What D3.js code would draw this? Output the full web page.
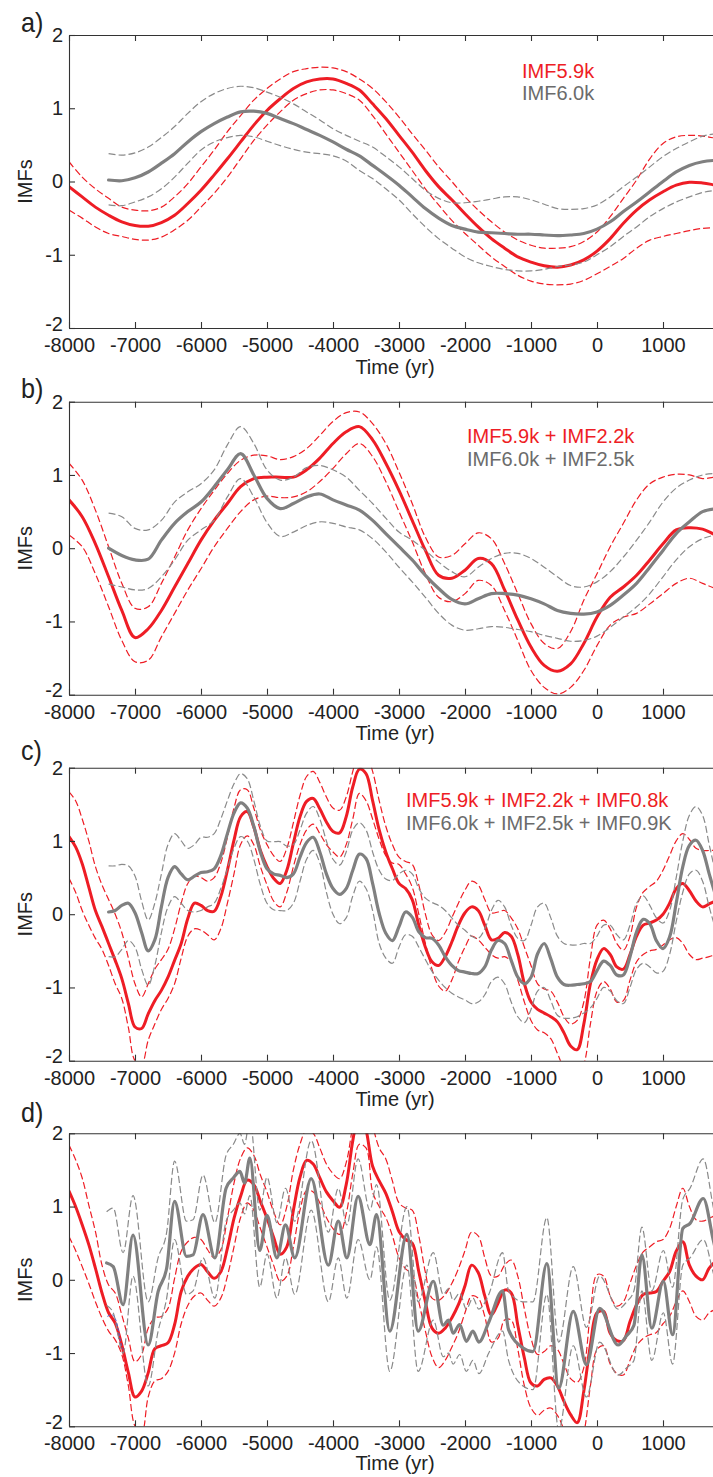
<!DOCTYPE html>
<html><head><meta charset="utf-8">
<script src="https://cdn.jsdelivr.net/npm/d3@7/dist/d3.min.js"></script>
<style>
body{margin:0;background:#fff;}
svg text{font-family:"Liberation Sans",Arial,Helvetica,sans-serif;}
</style></head>
<body><svg id="c" width="713" height="1477"></svg>
<script>
// ---------- DATA ----------
const xTicks = [-8000,-7000,-6000,-5000,-4000,-3000,-2000,-1000,0,1000];
const yTicks = [-2,-1,0,1,2];
const panelLabels = ["a)","b)","c)","d)"];
const legendRed = ["IMF5.9k","IMF5.9k + IMF2.2k","IMF5.9k + IMF2.2k + IMF0.8k"];
const legendGray = ["IMF6.0k","IMF6.0k + IMF2.5k","IMF6.0k + IMF2.5k + IMF0.9K"];

// time grids (years)
const tAB = d3.range(-8000, 2001, 200);
const tCD = d3.range(-8000, 2001, 100);

// Panel a
const aRedMain = [-0.07,-0.21,-0.35,-0.46,-0.55,-0.60,-0.61,-0.56,-0.46,-0.30,-0.12,0.09,0.31,0.54,0.77,0.97,1.13,1.27,1.36,1.40,1.40,1.34,
  1.25,1.06,0.86,0.63,0.40,0.15,-0.07,-0.25,-0.44,-0.62,-0.78,-0.91,-1.03,-1.10,-1.15,-1.17,-1.14,-1.07,-0.95,-0.78,-0.57,-0.39,-0.25,-0.14,-0.05,-0.01,-0.02,-0.05,-0.08];
const aRedUp = [0.27,0.06,-0.10,-0.23,-0.35,-0.39,-0.40,-0.35,-0.21,-0.03,0.20,0.43,0.68,0.90,1.11,1.27,1.40,1.50,1.54,1.56,1.55,1.50,
  1.40,1.27,1.09,0.88,0.65,0.43,0.20,0.00,-0.21,-0.39,-0.55,-0.69,-0.80,-0.87,-0.91,-0.91,-0.89,-0.82,-0.69,-0.48,-0.23,0.02,0.31,0.52,0.61,0.63,0.62,0.59,0.55];
const aRedLo = [-0.39,-0.50,-0.62,-0.71,-0.75,-0.79,-0.80,-0.76,-0.66,-0.53,-0.35,-0.16,0.06,0.31,0.56,0.77,0.95,1.11,1.20,1.25,1.25,1.20,
  1.11,0.90,0.65,0.40,0.15,-0.10,-0.32,-0.53,-0.71,-0.87,-1.03,-1.16,-1.28,-1.36,-1.40,-1.41,-1.40,-1.35,-1.26,-1.16,-1.05,-0.91,-0.80,-0.75,-0.71,-0.67,-0.64,-0.63,-0.62];
const aGrayMain = [null,null,null,0.02,0.01,0.05,0.13,0.25,0.38,0.54,0.68,0.79,0.88,0.95,0.96,0.93,0.86,0.79,0.71,0.63,0.54,0.44,
  0.35,0.22,0.09,-0.05,-0.21,-0.37,-0.50,-0.60,-0.65,-0.69,-0.70,-0.71,-0.72,-0.72,-0.73,-0.74,-0.73,-0.71,-0.65,-0.55,-0.41,-0.28,-0.14,0.00,0.13,0.22,0.27,0.29,0.30];
const aGrayUp = [null,null,null,0.38,0.36,0.39,0.47,0.60,0.75,0.93,1.09,1.20,1.27,1.30,1.28,1.22,1.15,1.06,0.95,0.84,0.72,0.63,
  0.55,0.47,0.34,0.20,0.04,-0.12,-0.23,-0.29,-0.29,-0.27,-0.24,-0.21,-0.21,-0.25,-0.31,-0.37,-0.38,-0.37,-0.32,-0.21,-0.07,0.06,0.20,0.34,0.45,0.54,0.62,0.65,0.66];
const aGrayLo = [null,null,null,-0.32,-0.33,-0.28,-0.21,-0.10,0.06,0.25,0.43,0.54,0.60,0.63,0.61,0.55,0.49,0.44,0.40,0.38,0.35,0.28,
  0.15,0.04,-0.10,-0.25,-0.44,-0.62,-0.78,-0.91,-1.03,-1.11,-1.16,-1.20,-1.22,-1.22,-1.20,-1.16,-1.14,-1.10,-1.00,-0.89,-0.75,-0.62,-0.48,-0.37,-0.28,-0.21,-0.15,-0.12,-0.10];

// Panel b
const bRedMain = [0.66,0.43,0.06,-0.39,-0.85,-1.22,-1.10,-0.85,-0.53,-0.21,0.11,0.38,0.61,0.84,0.95,0.97,0.97,0.97,1.07,1.23,1.43,1.59,
  1.66,1.48,1.16,0.79,0.38,-0.03,-0.37,-0.41,-0.30,-0.14,-0.21,-0.57,-0.98,-1.35,-1.60,-1.68,-1.58,-1.30,-0.94,-0.67,-0.53,-0.37,-0.16,0.06,0.25,0.28,0.26,0.18,0.12];
const bRedUp = [1.16,0.93,0.52,0.02,-0.48,-0.82,-0.80,-0.48,-0.12,0.25,0.54,0.79,1.02,1.20,1.27,1.26,1.21,1.25,1.36,1.54,1.73,1.85,
  1.86,1.70,1.43,1.04,0.61,0.15,-0.12,-0.10,0.06,0.21,0.13,-0.21,-0.62,-1.03,-1.30,-1.37,-1.14,-0.71,-0.35,0.02,0.34,0.66,0.88,0.97,1.01,1.00,0.95,0.97,0.95];
const bRedLo = [0.18,0.02,-0.35,-0.80,-1.26,-1.55,-1.53,-1.21,-0.89,-0.57,-0.28,0.02,0.27,0.50,0.66,0.71,0.69,0.70,0.77,0.91,1.09,1.29,
  1.43,1.25,0.91,0.50,0.09,-0.35,-0.67,-0.73,-0.62,-0.44,-0.51,-0.85,-1.26,-1.67,-1.90,-1.99,-1.90,-1.67,-1.33,-1.05,-0.94,-0.89,-0.76,-0.62,-0.48,-0.41,-0.48,-0.55,-0.58];
const bGrayMain = [null,null,null,0.00,-0.10,-0.16,-0.15,0.11,0.34,0.50,0.63,0.84,1.07,1.29,1.00,0.68,0.54,0.61,0.70,0.74,0.66,0.59,
  0.52,0.38,0.20,0.02,-0.16,-0.37,-0.55,-0.70,-0.76,-0.69,-0.62,-0.62,-0.64,-0.69,-0.76,-0.85,-0.89,-0.90,-0.87,-0.78,-0.64,-0.48,-0.26,-0.03,0.20,0.36,0.50,0.54,0.55];
const bGrayUp = [null,null,null,0.48,0.43,0.27,0.25,0.38,0.63,0.77,0.88,1.07,1.41,1.66,1.43,1.07,0.93,0.97,1.10,1.13,1.07,0.97,
  0.79,0.61,0.41,0.22,0.11,-0.03,-0.19,-0.32,-0.39,-0.26,-0.14,-0.07,-0.07,-0.14,-0.26,-0.39,-0.51,-0.53,-0.46,-0.32,-0.12,0.11,0.36,0.63,0.82,0.93,1.00,1.02,1.02];
const bGrayLo = [null,null,null,-0.49,-0.53,-0.57,-0.55,-0.39,-0.16,0.11,0.25,0.38,0.70,0.95,0.70,0.35,0.16,0.22,0.31,0.36,0.34,0.29,
  0.25,0.13,-0.05,-0.26,-0.46,-0.67,-0.89,-1.05,-1.12,-1.10,-1.07,-1.08,-1.11,-1.14,-1.19,-1.23,-1.27,-1.26,-1.20,-1.08,-0.94,-0.80,-0.62,-0.39,-0.16,0.02,0.13,0.18,0.20];

// Panel c
const cRedMain = [1.06,0.92,0.69,0.37,0.05,-0.17,-0.40,-0.63,-0.88,-1.22,
  -1.54,-1.56,-1.36,-1.18,-1.04,-0.86,-0.63,-0.40,-0.06,0.15,
  0.12,0.05,0.04,0.24,0.60,1.01,1.33,1.40,1.19,0.87,
  0.65,0.49,0.42,0.60,0.97,1.33,1.54,1.58,1.44,1.26,
  1.13,1.11,1.33,1.74,1.98,1.92,1.55,1.15,0.85,0.62,
  0.42,0.35,0.20,-0.15,-0.45,-0.65,-0.70,-0.58,-0.38,-0.15,
  0.02,0.10,0.05,-0.15,-0.35,-0.33,-0.25,-0.30,-0.55,-0.95,
  -1.20,-1.30,-1.35,-1.40,-1.47,-1.62,-1.80,-1.85,-1.50,-0.95,
  -0.62,-0.47,-0.55,-0.72,-0.75,-0.55,-0.30,-0.15,-0.12,-0.08,
  0.00,0.15,0.35,0.42,0.32,0.18,0.10,0.14,0.18,0.20,0.20];
const cRedUp = [1.67,1.55,1.30,1.00,0.65,0.40,0.20,0.00,-0.25,-0.60,
  -0.95,-1.13,-0.95,-0.75,-0.62,-0.48,-0.20,0.15,0.42,0.52,
  0.50,0.45,0.50,0.70,1.05,1.45,1.70,1.70,1.45,1.15,
  0.95,0.80,0.72,0.90,1.25,1.62,1.88,1.95,1.80,1.60,
  1.45,1.42,1.60,1.95,2.25,2.20,1.95,1.55,1.20,0.95,
  0.78,0.72,0.68,0.40,0.00,-0.28,-0.36,-0.25,-0.05,0.15,
  0.33,0.45,0.40,0.20,0.02,0.03,0.05,-0.05,-0.20,-0.45,
  -0.70,-0.95,-1.02,-1.05,-1.20,-1.40,-1.50,-1.45,-1.20,-0.60,
  -0.15,-0.08,-0.20,-0.40,-0.49,-0.30,0.10,0.30,0.38,0.45,
  0.60,0.80,1.00,1.10,1.02,0.90,0.87,0.87,0.87,0.85,0.85];
const cRedLo = [0.49,0.30,0.05,-0.15,-0.33,-0.48,-0.70,-0.95,-1.15,-1.55,
  -2.00,-2.05,-1.72,-1.50,-1.30,-1.15,-0.95,-0.60,-0.30,-0.20,
  -0.22,-0.28,-0.35,-0.20,0.15,0.55,0.95,1.07,0.95,0.65,
  0.40,0.18,0.10,0.30,0.65,0.95,1.15,1.23,1.10,0.95,
  0.85,0.78,0.95,1.30,1.65,1.55,1.30,1.02,0.80,0.70,
  0.68,0.55,0.37,0.00,-0.40,-0.75,-0.98,-1.05,-0.90,-0.65,
  -0.45,-0.30,-0.35,-0.45,-0.55,-0.60,-0.58,-0.65,-0.90,-1.20,
  -1.45,-1.58,-1.62,-1.70,-1.90,-2.10,-2.20,-2.20,-2.05,-1.50,
  -1.05,-0.92,-1.02,-1.20,-1.18,-0.90,-0.65,-0.55,-0.50,-0.48,
  -0.42,-0.35,-0.32,-0.40,-0.55,-0.62,-0.60,-0.58,-0.55,-0.55,-0.55];
const cGrayMain = [null,null,null,null,null,null,
  0.03,0.05,0.12,0.15,0.02,-0.25,-0.50,-0.35,0.10,0.50,
  0.65,0.55,0.47,0.52,0.57,0.58,0.62,0.80,1.10,1.38,
  1.52,1.45,1.20,0.85,0.62,0.55,0.53,0.50,0.55,0.78,
  0.98,1.05,0.85,0.55,0.35,0.27,0.35,0.60,0.82,0.76,
  0.42,0.01,-0.26,-0.36,-0.17,0.03,-0.04,-0.24,-0.32,-0.33,
  -0.42,-0.58,-0.70,-0.77,-0.79,-0.81,-0.81,-0.72,-0.49,-0.36,
  -0.40,-0.63,-0.86,-0.95,-0.86,-0.54,-0.40,-0.61,-0.86,-0.96,
  -0.97,-0.96,-0.95,-0.92,-0.77,-0.64,-0.70,-0.83,-0.83,-0.58,
  -0.24,-0.07,-0.13,-0.36,-0.47,-0.31,0.15,0.65,0.94,1.01,
  0.87,0.55,0.25,0.00,-0.20];
const cGrayUp = [null,null,null,null,null,null,
  0.66,0.66,0.68,0.66,0.52,0.18,-0.08,0.15,0.55,0.95,
  1.10,1.00,0.90,0.95,1.05,1.05,1.10,1.30,1.55,1.78,
  1.92,1.85,1.55,1.20,1.00,0.99,0.99,0.93,0.95,1.15,
  1.38,1.47,1.30,1.00,0.75,0.67,0.85,1.15,1.25,1.15,
  0.85,0.60,0.48,0.46,0.55,0.60,0.55,0.35,0.22,0.16,
  0.12,0.05,-0.05,-0.15,-0.22,-0.30,-0.33,-0.20,0.05,0.19,
  0.10,-0.15,-0.33,-0.36,-0.15,0.10,0.15,-0.05,-0.30,-0.40,
  -0.42,-0.42,-0.40,-0.40,-0.30,-0.15,-0.15,-0.28,-0.35,-0.15,
  0.15,0.25,0.12,-0.05,-0.12,0.05,0.50,1.00,1.35,1.47,
  1.35,0.95,0.55,0.20,0.00];
const cGrayLo = [null,null,null,null,null,null,
  -0.58,-0.58,-0.48,-0.36,-0.45,-0.75,-0.97,-0.70,-0.25,0.10,
  0.24,0.15,0.05,0.03,0.05,0.10,0.15,0.35,0.62,0.90,
  1.06,1.00,0.75,0.40,0.15,0.06,0.05,0.05,0.15,0.45,
  0.75,0.87,0.70,0.30,0.00,-0.13,-0.05,0.25,0.45,0.35,
  0.05,-0.40,-0.60,-0.67,-0.45,-0.28,-0.30,-0.45,-0.62,-0.78,
  -0.90,-1.00,-1.08,-1.13,-1.17,-1.22,-1.20,-1.10,-0.92,-0.86,
  -0.95,-1.20,-1.40,-1.48,-1.30,-1.05,-1.00,-1.18,-1.38,-1.42,
  -1.42,-1.40,-1.35,-1.28,-1.15,-1.00,-1.05,-1.18,-1.22,-1.00,
  -0.75,-0.67,-0.72,-0.80,-0.78,-0.55,-0.10,0.30,0.55,0.60,
  0.45,0.10,-0.20,-0.40,-0.50];

// Panel d (red on 100-yr grid)
const dRedMain = [1.21,1.00,0.75,0.48,0.16,-0.18,-0.45,-0.59,-0.89,-1.27,
  -1.60,-1.52,-1.27,-0.94,-0.90,-0.86,-0.61,-0.16,0.05,0.16,
  0.21,0.11,0.02,0.11,0.43,0.84,1.14,1.36,1.30,1.07,
  0.84,0.58,0.35,0.45,0.95,1.40,1.63,1.58,1.39,1.20,
  1.08,0.99,1.30,1.90,2.30,2.05,1.55,1.35,1.18,0.93,
  0.66,0.55,0.50,0.11,-0.30,-0.66,-0.73,-0.66,-0.52,-0.34,
  -0.08,0.20,0.10,-0.22,-0.48,-0.32,-0.14,-0.18,-0.62,-1.07,
  -1.41,-1.45,-1.36,-1.34,-1.45,-1.66,-1.84,-1.95,-1.52,-0.89,
  -0.45,-0.43,-0.73,-0.83,-0.83,-0.57,-0.34,-0.20,-0.18,-0.16,
  -0.02,0.11,0.39,0.52,0.20,0.05,0.00,0.16,0.25,0.30,0.30];
const dRedUp = [1.84,1.64,1.39,1.02,0.66,0.20,-0.07,-0.18,-0.48,-0.80,
  -1.12,-1.02,-0.66,-0.52,-0.50,-0.39,0.02,0.39,0.52,0.58,
  0.55,0.41,0.30,0.41,0.84,1.32,1.66,1.80,1.70,1.43,
  1.20,0.93,0.75,1.00,1.50,1.85,2.05,2.00,1.80,1.58,
  1.45,1.38,1.60,2.10,2.50,2.40,2.10,1.80,1.65,1.35,
  1.05,0.98,0.95,0.60,0.10,-0.25,-0.28,-0.20,-0.05,0.15,
  0.40,0.65,0.60,0.30,0.05,0.05,0.20,0.27,0.05,-0.40,
  -0.80,-1.02,-0.98,-0.90,-0.95,-1.15,-1.35,-1.40,-1.20,-0.45,
  0.07,0.05,-0.22,-0.36,-0.30,-0.05,0.20,0.38,0.45,0.52,
  0.55,0.70,1.00,1.25,1.00,0.82,0.80,0.84,0.88,0.90,0.90];
const dRedLo = [0.59,0.40,0.18,-0.05,-0.30,-0.52,-0.70,-0.82,-1.02,-1.45,
  -2.00,-2.10,-1.60,-1.38,-1.35,-1.25,-1.00,-0.60,-0.35,-0.22,
  -0.18,-0.28,-0.36,-0.25,0.05,0.45,0.85,1.05,0.95,0.70,
  0.45,0.20,-0.02,0.05,0.45,0.95,1.22,1.20,1.05,0.85,
  0.70,0.62,0.90,1.45,1.85,1.80,1.20,1.00,0.85,0.60,
  0.30,0.15,0.08,-0.30,-0.70,-1.05,-1.20,-1.10,-0.92,-0.72,
  -0.45,-0.22,-0.25,-0.50,-0.85,-0.80,-0.55,-0.55,-0.95,-1.45,
  -1.75,-1.85,-1.78,-1.75,-1.85,-2.05,-2.30,-2.40,-2.10,-1.45,
  -0.95,-0.90,-1.15,-1.28,-1.30,-1.10,-0.90,-0.80,-0.75,-0.72,
  -0.60,-0.50,-0.30,-0.15,-0.30,-0.50,-0.55,-0.45,-0.40,-0.35,-0.35];

// Panel d gray: knots at turning points (years)
const dGrayT = [-7430,-7330,-7180,-7030,-6800,-6650,-6520,-6400,-6220,-6120,-5970,-5790,-5620,-5510,-5410,-5340,-5260,-5110,-5000,-4850,
  -4720,-4580,-4330,-4070,-3920,-3790,-3620,-3440,-3340,-3140,-2880,-2710,-2480,-2330,-2250,-2180,-2080,-1980,-1880,-1790,
  -1640,-1430,-1340,-1120,-970,-760,-580,-360,-160,40,320,450,560,680,830,1005,1145,1300,1410,1610,1760,1850];
const dGrayMain = [0.23,0.18,-0.34,0.61,-0.89,-0.16,0.16,1.07,0.32,0.34,0.89,0.30,1.25,1.39,1.48,1.32,1.66,0.40,0.88,0.30,
  0.75,0.30,1.38,0.20,0.80,0.30,1.14,0.48,0.89,-0.70,0.62,-0.70,-0.02,-0.62,-0.55,-0.73,-0.61,-0.84,-0.70,-0.85,
  -0.58,-0.15,-0.68,-0.93,-0.98,0.22,-1.48,-0.43,-1.16,-0.39,-0.89,-0.76,-0.62,0.34,-0.66,-0.02,-0.75,0.70,0.77,1.11,0.55,0.20];
const dGrayUp = [0.93,0.98,0.37,1.15,-0.30,0.30,0.65,1.62,0.80,0.82,1.43,0.78,1.70,1.85,2.00,1.85,2.20,0.95,1.40,0.78,
  1.25,0.80,1.90,0.65,1.25,0.75,1.65,0.95,1.30,-0.28,1.00,-0.30,0.37,-0.20,-0.12,-0.28,-0.18,-0.40,-0.25,-0.40,
  -0.20,0.37,-0.15,-0.30,-0.30,0.85,-0.85,0.18,-0.65,0.05,-0.40,-0.30,-0.15,0.72,-0.15,0.40,-0.10,1.10,1.25,1.65,1.00,0.60];
const dGrayLo = [-0.35,-0.45,-1.00,0.05,-1.45,-0.70,-0.25,0.55,-0.20,-0.15,0.30,-0.25,0.80,0.95,1.05,0.90,1.15,-0.10,0.35,-0.25,
  0.30,-0.20,0.95,-0.30,0.30,-0.25,0.55,0.00,0.45,-1.25,0.20,-1.25,-0.55,-1.05,-1.00,-1.15,-1.02,-1.25,-1.10,-1.28,
  -1.00,-0.70,-1.10,-1.45,-1.50,-0.20,-2.05,-0.90,-1.60,-0.85,-1.30,-1.20,-1.10,-0.15,-1.10,-0.45,-1.15,0.20,0.30,0.55,0.10,-0.20];
// small blue dashed stroke seen in panel d
const dBlueT = [-7420,-7340,-7290,-7250,-7210,-7180];
const dBlueV = [-0.50,-0.48,-0.55,-0.70,-0.88,-0.95];

// ---------- STYLE / LAYOUT ----------
const RED = "#ee1d25", GRAY = "#808080", GRAYD = "#8a8a8a", GRAYTXT = "#6b6b6b", AX = "#333333", TXT = "#222222";
const left = 69, plotW = 660, plotH = 293;
const tops = [35, 401.7, 767.7, 1133.3];
const labelBase = [32, 398, 760, 1122];
const legendX = [522, 467, 406];
const legendDy = [[43,65],[41,64],[39,62]];
const timeDy = [46, 45, 45, 44];

const svg = d3.select("#c");
const x = d3.scaleLinear().domain([-8000, 2000]).range([left, left + plotW]);

const catmull = d3.curveCatmullRom.alpha(0.5);
const mono = d3.curveMonotoneX;

const panels = [
  {t: tAB, gt: tAB, rm: aRedMain, ru: aRedUp, rl: aRedLo, gm: aGrayMain, gu: aGrayUp, gl: aGrayLo, gc: catmull},
  {t: tAB, gt: tAB, rm: bRedMain, ru: bRedUp, rl: bRedLo, gm: bGrayMain, gu: bGrayUp, gl: bGrayLo, gc: catmull},
  {t: tCD, gt: tCD, rm: cRedMain, ru: cRedUp, rl: cRedLo, gm: cGrayMain, gu: cGrayUp, gl: cGrayLo, gc: catmull},
  {t: tCD, gt: dGrayT, rm: dRedMain, ru: dRedUp, rl: dRedLo, gm: dGrayMain, gu: dGrayUp, gl: dGrayLo, gc: mono}
];

panels.forEach((p, i) => {
  const top = tops[i];
  const y = d3.scaleLinear().domain([-2, 2]).range([top + plotH, top]);
  const g = svg.append("g");
  const clipId = "clip" + i;
  svg.append("clipPath").attr("id", clipId).append("rect")
    .attr("x", left).attr("y", top).attr("width", plotW).attr("height", plotH);
  const lg = g.append("g").attr("clip-path", `url(#${clipId})`);

  const draw = (ts, vs, curve, color, w, dash) => {
    const data = ts.map((t, k) => [t, vs[k]]);
    const line = d3.line().defined(d => d[1] != null).x(d => x(d[0])).y(d => y(d[1])).curve(curve);
    lg.append("path").attr("d", line(data)).attr("fill", "none")
      .attr("stroke", color).attr("stroke-width", w)
      .attr("stroke-dasharray", dash || null)
      .attr("stroke-linejoin", "round")
      .attr("stroke-linecap", dash ? "butt" : "round");
  };
  draw(p.t, p.ru, catmull, RED, 1.2, "7,3");
  draw(p.t, p.rl, catmull, RED, 1.2, "7,3");
  draw(p.t, p.rm, catmull, RED, 3);
  draw(p.gt, p.gu, p.gc, GRAYD, 1.2, "7,3");
  draw(p.gt, p.gl, p.gc, GRAYD, 1.2, "7,3");
  draw(p.gt, p.gm, p.gc, GRAY, 3.2);
  if (i === 3) draw(dBlueT, dBlueV, catmull, "#4a63c8", 1, "3,2");

  // axes
  const fmt = d => String(d);
  const gb = g.append("g").attr("transform", `translate(0,${top + plotH})`)
    .call(d3.axisBottom(x).tickValues(xTicks).tickFormat(fmt).tickSizeInner(-6).tickSizeOuter(0).tickPadding(10));
  const gt = g.append("g").attr("transform", `translate(0,${top})`)
    .call(d3.axisTop(x).tickValues(xTicks).tickFormat("").tickSizeInner(-6).tickSizeOuter(0));
  const gl = g.append("g").attr("transform", `translate(${left},0)`)
    .call(d3.axisLeft(y).tickValues(yTicks).tickFormat(fmt).tickSizeInner(-6).tickSizeOuter(0).tickPadding(6));
  [gb, gt, gl].forEach(a => {
    a.selectAll(".domain").attr("stroke", AX).attr("stroke-width", 1.1);
    a.selectAll(".tick line").attr("stroke", AX).attr("stroke-width", 1.1);
    a.selectAll(".tick text").attr("font-size", 20).attr("fill", TXT)
      .attr("font-family", '"Liberation Sans",Arial,Helvetica,sans-serif');
  });
  // lift the bottom y label a little, as in the original it sits just above the x labels
  gl.selectAll(".tick text").filter(d => d === -2).attr("dy", "0.1em");

  // axis titles
  g.append("text").attr("x", 395).attr("y", top + plotH + timeDy[i])
    .attr("text-anchor", "middle").attr("font-size", 20).attr("fill", TXT).text("Time (yr)");
  g.append("text").attr("transform", `translate(32,${top + plotH / 2}) rotate(-90)`)
    .attr("text-anchor", "middle").attr("font-size", 20).attr("fill", TXT).text("IMFs");
  // panel label
  g.append("text").attr("transform", `translate(21,${labelBase[i]}) scale(0.9,1)`)
    .attr("font-size", 28).attr("fill", TXT).text(panelLabels[i]);
  // legend
  if (i < 3) {
    g.append("text").attr("x", legendX[i]).attr("y", top + legendDy[i][0])
      .attr("font-size", 20).attr("fill", RED).text(legendRed[i]);
    g.append("text").attr("x", legendX[i]).attr("y", top + legendDy[i][1])
      .attr("font-size", 20).attr("fill", GRAYTXT).text(legendGray[i]);
  }
});
</script>
</body></html>
